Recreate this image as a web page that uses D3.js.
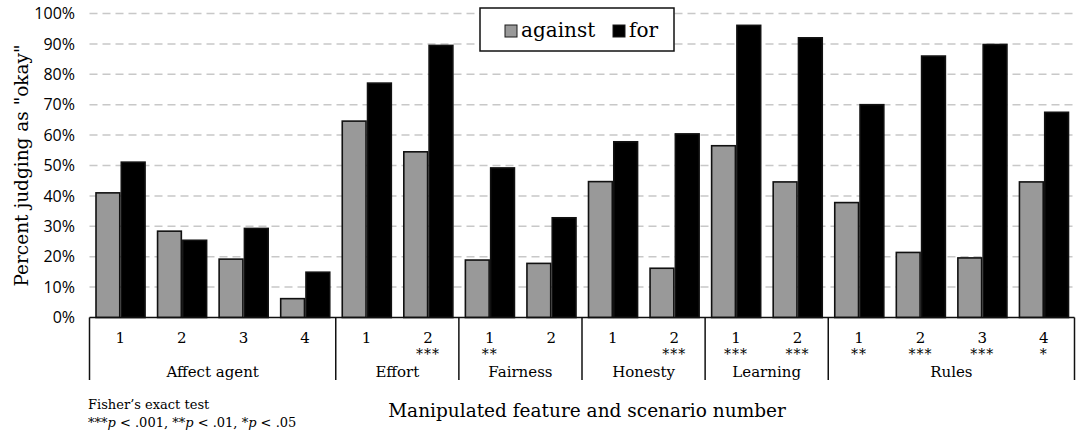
<!DOCTYPE html>
<html>
<head>
<meta charset="utf-8">
<script src="https://cdn.jsdelivr.net/npm/d3@7"></script>
<style>
  body { margin: 0; background: #fff; }
  svg { display: block; }
  .serif { font-family: "DejaVu Serif", serif; fill: #000; }
  .tick-label { font-family: "Open Sans", sans-serif; fill: #000; }
</style>
</head>
<body>
<div id="chart"></div>
<script>
// data
const features = ["Affect agent", "Effort", "Fairness", "Honesty", "Learning", "Rules"];
const featureOf = ["Affect agent", "Affect agent", "Affect agent", "Affect agent",
                   "Effort", "Effort", "Fairness", "Fairness", "Honesty", "Honesty",
                   "Learning", "Learning", "Rules", "Rules", "Rules", "Rules"];
const scenarioNum = [1, 2, 3, 4, 1, 2, 1, 2, 1, 2, 1, 2, 1, 2, 3, 4];
const stars = ["", "", "", "", "", "***", "**", "", "", "***", "***", "***", "**", "***", "***", "*"];
const against = [41, 28.4, 19.2, 6.2, 64.6, 54.5, 18.9, 17.8, 44.7, 16.2, 56.5, 44.6, 37.8, 21.4, 19.6, 44.6];
const forVals = [51.1, 25.4, 29.3, 14.9, 77.1, 89.5, 49.2, 32.8, 57.8, 60.4, 96.1, 92.0, 70.0, 86.0, 89.8, 67.5];
const series = ["against", "for"];
const yTicks = [0, 10, 20, 30, 40, 50, 60, 70, 80, 90, 100];

const W = 1078, H = 435;
const plotLeft = 89.5, plotRight = 1074.5, plotTop = 13.5, base = 317.5, boxBottom = 380;

const svg = d3.select("#chart").append("svg")
  .attr("width", W).attr("height", H);

const keys = featureOf.map((f, i) => i);
const rows = keys.map(i => ({
  i, feature: featureOf[i], num: scenarioNum[i], stars: stars[i],
  against: against[i], for: forVals[i]
}));

const x0 = d3.scaleBand().domain(keys).range([plotLeft, plotRight]).padding(0);
const x1 = d3.scaleBand().domain(series).range([6.5, x0.bandwidth() - 6]).paddingInner(0.06);
const y = d3.scaleLinear().domain([0, 100]).range([base, plotTop]);
const fill = d3.scaleOrdinal().domain(series).range(["#999999", "#000000"]);

// gridlines
svg.append("g")
  .selectAll("line")
  .data(yTicks.filter(d => d > 0))
  .enter().append("line")
  .attr("x1", plotLeft).attr("x2", plotRight)
  .attr("y1", d => y(d)).attr("y2", d => y(d))
  .attr("stroke", "#c8c8c8")
  .attr("stroke-width", 1.5)
  .attr("stroke-dasharray", "8,5");

// y tick labels
svg.append("g")
  .selectAll("text")
  .data(yTicks)
  .enter().append("text")
  .attr("class", "tick-label")
  .attr("x", 75)
  .attr("y", d => y(d))
  .attr("dy", "0.36em")
  .attr("text-anchor", "end")
  .style("font-size", "16px")
  .text(d => d + "%");

// bars
const groups = svg.append("g")
  .selectAll("g")
  .data(rows)
  .enter().append("g")
  .attr("transform", d => `translate(${x0(d.i)},0)`);

groups.selectAll("rect")
  .data(d => series.map(s => ({ s, v: d[s] })))
  .enter().append("rect")
  .attr("x", d => x1(d.s))
  .attr("y", d => y(d.v))
  .attr("width", x1.bandwidth())
  .attr("height", d => y(0) - y(d.v))
  .attr("fill", d => fill(d.s))
  .attr("stroke", "#111")
  .attr("stroke-width", 1.6);

// category box: top line and dividers
svg.append("line")
  .attr("x1", plotLeft).attr("x2", plotRight)
  .attr("y1", base).attr("y2", base)
  .attr("stroke", "#111").attr("stroke-width", 1.5);

const bounds = features.map(f => {
  const idx = keys.filter(i => featureOf[i] === f);
  return { f, x0: x0(idx[0]), x1: x0(idx[idx.length - 1]) + x0.bandwidth() };
});
const divX = [plotLeft].concat(bounds.map(b => b.x1));

svg.append("g")
  .selectAll("line")
  .data(divX)
  .enter().append("line")
  .attr("x1", d => d).attr("x2", d => d)
  .attr("y1", base).attr("y2", boxBottom)
  .attr("stroke", "#111").attr("stroke-width", 1.5);

// scenario numbers and significance stars
svg.append("g")
  .selectAll("text")
  .data(rows)
  .enter().append("text")
  .attr("class", "serif")
  .attr("x", d => x0(d.i) + x0.bandwidth() / 2)
  .attr("y", 343)
  .attr("text-anchor", "middle")
  .style("font-size", "15px")
  .text(d => d.num);

svg.append("g")
  .selectAll("text")
  .data(rows.filter(d => d.stars))
  .enter().append("text")
  .attr("class", "serif")
  .attr("x", d => x0(d.i) + x0.bandwidth() / 2)
  .attr("y", 359)
  .attr("text-anchor", "middle")
  .style("font-size", "14px")
  .style("letter-spacing", "1px")
  .text(d => d.stars);

svg.append("g")
  .selectAll("text")
  .data(bounds)
  .enter().append("text")
  .attr("class", "serif")
  .attr("x", d => (d.x0 + d.x1) / 2)
  .attr("y", 377)
  .attr("text-anchor", "middle")
  .style("font-size", "15px")
  .text(d => d.f);

// axis titles
svg.append("text")
  .attr("class", "serif")
  .attr("transform", `translate(28,${(plotTop + base) / 2}) rotate(-90)`)
  .attr("text-anchor", "middle")
  .style("font-size", "18.5px")
  .text('Percent judging as "okay"');

svg.append("text")
  .attr("class", "serif")
  .attr("x", 587)
  .attr("y", 417)
  .attr("text-anchor", "middle")
  .style("font-size", "18.5px")
  .text("Manipulated feature and scenario number");

// footnote
svg.append("text")
  .attr("class", "serif")
  .attr("x", 88).attr("y", 409)
  .style("font-size", "13px")
  .text("Fisher\u2019s exact test");

const note = svg.append("text")
  .attr("class", "serif")
  .attr("x", 88).attr("y", 427)
  .style("font-size", "13px");
[["***", false], ["p", true], [" < .001, **", false], ["p", true], [" < .01, *", false], ["p", true], [" < .05", false]]
  .forEach(([t, it]) => note.append("tspan").style("font-style", it ? "italic" : "normal").text(t));

// legend
const legend = svg.append("g");
legend.append("rect")
  .attr("x", 480).attr("y", 8).attr("width", 194).attr("height", 43)
  .attr("fill", "#fff").attr("stroke", "#111").attr("stroke-width", 1.5);

const legendX = d3.scaleOrdinal().domain(series).range([505, 613]);
const items = legend.selectAll("g.item")
  .data(series)
  .enter().append("g")
  .attr("transform", d => `translate(${legendX(d)},0)`);
items.append("rect")
  .attr("x", 0).attr("y", 25).attr("width", 12).attr("height", 12)
  .attr("fill", d => fill(d)).attr("stroke", "#1a1a1a").attr("stroke-width", 1);
items.append("text")
  .attr("class", "serif")
  .attr("x", 16).attr("y", 37)
  .style("font-size", "20px")
  .text(d => d);
</script>
</body>
</html>
